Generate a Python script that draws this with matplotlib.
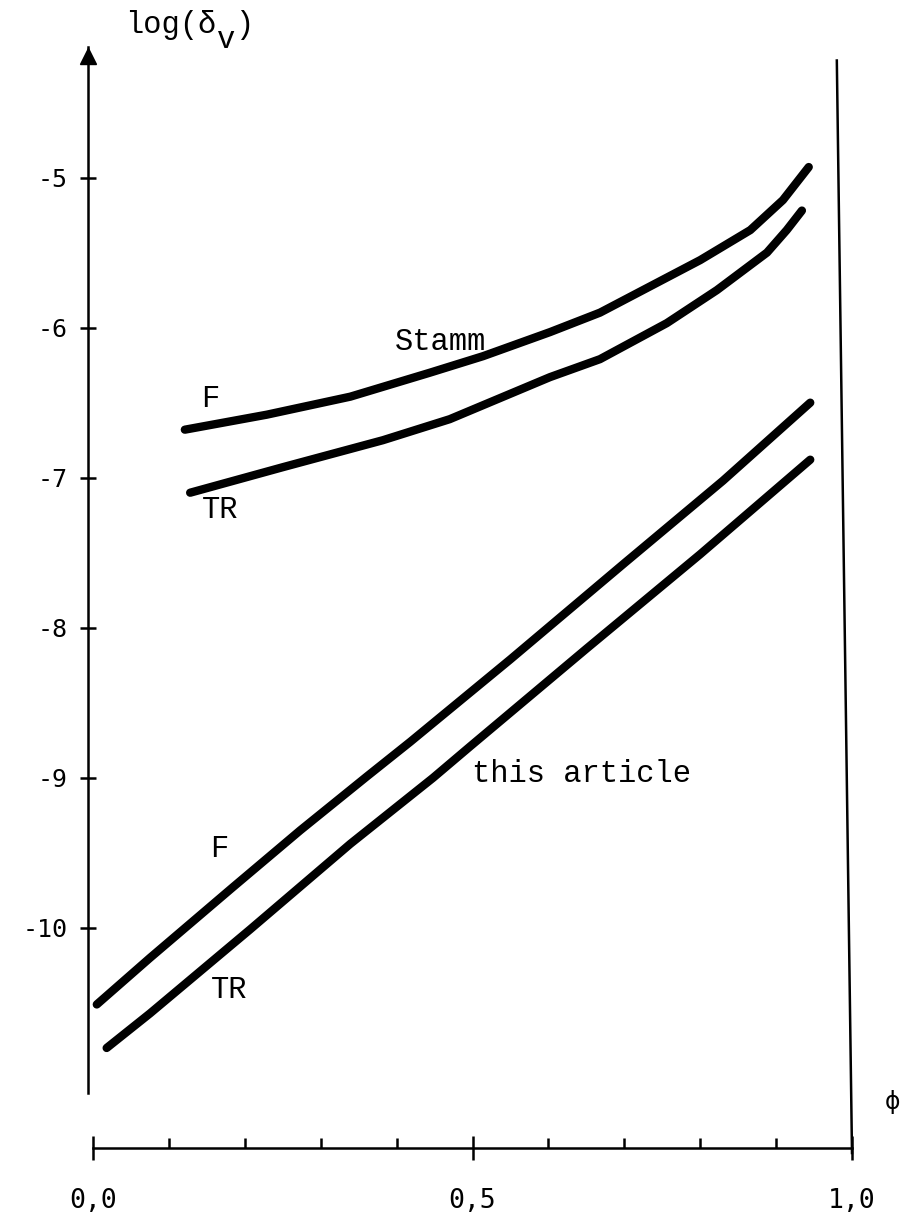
import matplotlib.pyplot as plt

# curves: phi -> log(delta_v)
stamm_f_phi = [0.121, 0.229, 0.339, 0.444, 0.514, 0.602, 0.668, 0.800, 0.866, 0.909, 0.943]
stamm_f_log = [-6.68, -6.58, -6.46, -6.30, -6.19, -6.03, -5.90, -5.55, -5.35, -5.15, -4.93]

stamm_tr_phi = [0.128, 0.250, 0.382, 0.470, 0.602, 0.668, 0.756, 0.822, 0.888, 0.914, 0.934]
stamm_tr_log = [-7.10, -6.93, -6.75, -6.61, -6.33, -6.21, -5.97, -5.75, -5.50, -5.35, -5.22]

art_f_phi = [0.005, 0.075, 0.184, 0.273, 0.361, 0.418, 0.550, 0.700, 0.830, 0.945]
art_f_log = [-10.51, -10.20, -9.73, -9.35, -8.99, -8.76, -8.21, -7.57, -7.02, -6.50]

art_tr_phi = [0.018, 0.075, 0.207, 0.339, 0.448, 0.497, 0.650, 0.800, 0.945]
art_tr_log = [-10.80, -10.57, -10.01, -9.44, -9.00, -8.79, -8.14, -7.51, -6.88]

y_ticks = [-5, -6, -7, -8, -9, -10]
y_labels = ['-5', '-6', '-7', '-8', '-9', '-10']
x_ticks = [0.0, 0.5, 1.0]
x_labels = ['0,0', '0,5', '1,0']
x_minor = [0.1, 0.2, 0.3, 0.4, 0.6, 0.7, 0.8, 0.9]

MONO = ['Liberation Mono', 'DejaVu Sans Mono']
SANS = ['DejaVu Sans Mono', 'DejaVu Sans']

W, H = 900, 1215
fig = plt.figure(figsize=(W / 100, H / 100), dpi=100)

# main plotting area (pixel layout of the scan)
ax = fig.add_axes([88 / W, 1 - 1093 / H, (852 - 88) / W, (1093 - 47) / H])
ax.set_xlim(-5 / 759, 1.0)
ax.set_ylim(-11.1, -4.13)
ax.patch.set_visible(False)
for s in ['top', 'right', 'bottom']:
    ax.spines[s].set_visible(False)
ax.spines['left'].set_linewidth(1.8)
ax.set_xticks([])
ax.set_yticks(y_ticks, y_labels)
ax.tick_params(axis='y', direction='inout', length=12, width=1.8, pad=9,
               labelsize=18)
for lab in ax.get_yticklabels():
    lab.set_family(SANS)

# arrow head on the y axis
ax.plot([-5 / 759], [-4.19], marker='^', markersize=11, color='black',
        clip_on=False)

# right frame line (slightly slanted like the drawing)
ax.plot([0.98, 1.0], [-4.22, -11.5], color='black', lw=1.8, clip_on=False)

# curves
lw = 6
for xs, ys in [(stamm_f_phi, stamm_f_log), (stamm_tr_phi, stamm_tr_log),
               (art_f_phi, art_f_log), (art_tr_phi, art_tr_log)]:
    ax.plot(xs, ys, color='black', lw=lw, solid_capstyle='round',
            solid_joinstyle='round')

# curve labels
txt = dict(fontsize=22, family=MONO, va='baseline', ha='left')
ax.text(0.398, -6.147, 'Stamm', **txt)
ax.text(0.142, -6.527, 'F', **txt)
ax.text(0.144, -7.267, 'TR', **txt)
ax.text(0.500, -9.027, 'this article', **txt)
ax.text(0.154, -9.527, 'F', **txt)
ax.text(0.155, -10.467, 'TR', **txt)

# separate horizontal phi axis below the plot
ax2 = fig.add_axes([93 / W, 1 - 1148 / H, 759 / W, 0.001])
ax2.set_xlim(0, 1)
ax2.patch.set_visible(False)
for s in ['top', 'right', 'left']:
    ax2.spines[s].set_visible(False)
ax2.spines['bottom'].set_linewidth(1.8)
ax2.set_yticks([])
ax2.set_xticks(x_ticks, x_labels)
ax2.set_xticks(x_minor, minor=True)
ax2.tick_params(axis='x', which='major', direction='inout', length=17,
                width=1.8, pad=20, labelsize=19)
ax2.tick_params(axis='x', which='minor', direction='in', length=7.5,
                width=1.8)
for lab in ax2.get_xticklabels():
    lab.set_family(SANS)

# axis titles
fig.text(125 / W, 1 - 33 / H, 'log(\u03b4', fontsize=22, family=MONO,
         va='baseline', ha='left')
fig.text(217 / W, 1 - 48 / H, 'v', fontsize=22, family=MONO,
         va='baseline', ha='left')
fig.text(235 / W, 1 - 33 / H, ')', fontsize=22, family=MONO,
         va='baseline', ha='left')
fig.text(893 / W, 1 - 1102 / H, '\u03d5', fontsize=17, family='DejaVu Sans',
         ha='center', va='center')

fig.savefig('out.png', dpi=100)
